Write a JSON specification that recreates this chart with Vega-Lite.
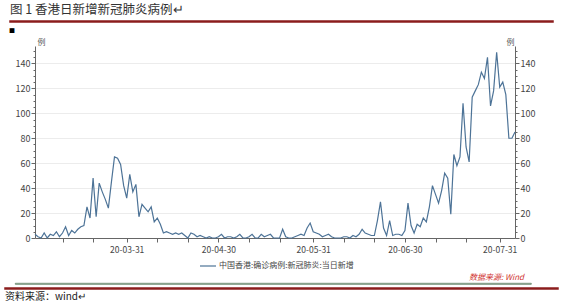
{
  "$schema": "https://vega.github.io/schema/vega-lite/v6.json",
  "background": "white",
  "padding": {"left": 4, "top": 2, "right": 0, "bottom": 0},
  "spacing": 5,
  "config": {
    "view": {"stroke": null},
    "font": "Noto Sans CJK SC",
    "title": {"font": "Noto Sans CJK SC", "fontWeight": "normal"}
  },
  "datasets": {
    "hk": [
      {"date": "2020-03-01", "cases": 3}, {"date": "2020-03-02", "cases": 1}, {"date": "2020-03-03", "cases": 0},
      {"date": "2020-03-04", "cases": 4}, {"date": "2020-03-05", "cases": 0}, {"date": "2020-03-06", "cases": 3},
      {"date": "2020-03-07", "cases": 2}, {"date": "2020-03-08", "cases": 5}, {"date": "2020-03-09", "cases": 1},
      {"date": "2020-03-10", "cases": 4}, {"date": "2020-03-11", "cases": 9}, {"date": "2020-03-12", "cases": 2},
      {"date": "2020-03-13", "cases": 6}, {"date": "2020-03-14", "cases": 4}, {"date": "2020-03-15", "cases": 7},
      {"date": "2020-03-16", "cases": 9}, {"date": "2020-03-17", "cases": 10}, {"date": "2020-03-18", "cases": 25},
      {"date": "2020-03-19", "cases": 16}, {"date": "2020-03-20", "cases": 48}, {"date": "2020-03-21", "cases": 17},
      {"date": "2020-03-22", "cases": 44}, {"date": "2020-03-23", "cases": 37}, {"date": "2020-03-24", "cases": 31},
      {"date": "2020-03-25", "cases": 24}, {"date": "2020-03-26", "cases": 45}, {"date": "2020-03-27", "cases": 65},
      {"date": "2020-03-28", "cases": 64}, {"date": "2020-03-29", "cases": 59}, {"date": "2020-03-30", "cases": 42},
      {"date": "2020-03-31", "cases": 32},
      {"date": "2020-04-01", "cases": 51}, {"date": "2020-04-02", "cases": 37}, {"date": "2020-04-03", "cases": 43},
      {"date": "2020-04-04", "cases": 17}, {"date": "2020-04-05", "cases": 27}, {"date": "2020-04-06", "cases": 24},
      {"date": "2020-04-07", "cases": 21}, {"date": "2020-04-08", "cases": 25}, {"date": "2020-04-09", "cases": 13},
      {"date": "2020-04-10", "cases": 16}, {"date": "2020-04-11", "cases": 11}, {"date": "2020-04-12", "cases": 4},
      {"date": "2020-04-13", "cases": 5}, {"date": "2020-04-14", "cases": 4}, {"date": "2020-04-15", "cases": 3},
      {"date": "2020-04-16", "cases": 4}, {"date": "2020-04-17", "cases": 3}, {"date": "2020-04-18", "cases": 4},
      {"date": "2020-04-19", "cases": 2}, {"date": "2020-04-20", "cases": 0}, {"date": "2020-04-21", "cases": 4},
      {"date": "2020-04-22", "cases": 3}, {"date": "2020-04-23", "cases": 1}, {"date": "2020-04-24", "cases": 2},
      {"date": "2020-04-25", "cases": 1}, {"date": "2020-04-26", "cases": 0}, {"date": "2020-04-27", "cases": 1},
      {"date": "2020-04-28", "cases": 0}, {"date": "2020-04-29", "cases": 0}, {"date": "2020-04-30", "cases": 1},
      {"date": "2020-05-01", "cases": 3}, {"date": "2020-05-02", "cases": 0}, {"date": "2020-05-03", "cases": 1},
      {"date": "2020-05-04", "cases": 1}, {"date": "2020-05-05", "cases": 0}, {"date": "2020-05-06", "cases": 1},
      {"date": "2020-05-07", "cases": 3}, {"date": "2020-05-08", "cases": 0}, {"date": "2020-05-09", "cases": 0},
      {"date": "2020-05-10", "cases": 1}, {"date": "2020-05-11", "cases": 3}, {"date": "2020-05-12", "cases": 0},
      {"date": "2020-05-13", "cases": 0}, {"date": "2020-05-14", "cases": 3}, {"date": "2020-05-15", "cases": 1},
      {"date": "2020-05-16", "cases": 2}, {"date": "2020-05-17", "cases": 3}, {"date": "2020-05-18", "cases": 0},
      {"date": "2020-05-19", "cases": 0}, {"date": "2020-05-20", "cases": 0}, {"date": "2020-05-21", "cases": 7},
      {"date": "2020-05-22", "cases": 1}, {"date": "2020-05-23", "cases": 0}, {"date": "2020-05-24", "cases": 0},
      {"date": "2020-05-25", "cases": 1}, {"date": "2020-05-26", "cases": 2}, {"date": "2020-05-27", "cases": 3},
      {"date": "2020-05-28", "cases": 2}, {"date": "2020-05-29", "cases": 8}, {"date": "2020-05-30", "cases": 12},
      {"date": "2020-05-31", "cases": 5},
      {"date": "2020-06-01", "cases": 4}, {"date": "2020-06-02", "cases": 3}, {"date": "2020-06-03", "cases": 1},
      {"date": "2020-06-04", "cases": 2}, {"date": "2020-06-05", "cases": 3}, {"date": "2020-06-06", "cases": 1},
      {"date": "2020-06-07", "cases": 0}, {"date": "2020-06-08", "cases": 0}, {"date": "2020-06-09", "cases": 0},
      {"date": "2020-06-10", "cases": 1}, {"date": "2020-06-11", "cases": 1}, {"date": "2020-06-12", "cases": 0},
      {"date": "2020-06-13", "cases": 2}, {"date": "2020-06-14", "cases": 1}, {"date": "2020-06-15", "cases": 3},
      {"date": "2020-06-16", "cases": 7}, {"date": "2020-06-17", "cases": 4}, {"date": "2020-06-18", "cases": 3},
      {"date": "2020-06-19", "cases": 2}, {"date": "2020-06-20", "cases": 2}, {"date": "2020-06-21", "cases": 14},
      {"date": "2020-06-22", "cases": 29}, {"date": "2020-06-23", "cases": 8}, {"date": "2020-06-24", "cases": 2},
      {"date": "2020-06-25", "cases": 14}, {"date": "2020-06-26", "cases": 2}, {"date": "2020-06-27", "cases": 3},
      {"date": "2020-06-28", "cases": 3}, {"date": "2020-06-29", "cases": 2}, {"date": "2020-06-30", "cases": 6},
      {"date": "2020-07-01", "cases": 28}, {"date": "2020-07-02", "cases": 10}, {"date": "2020-07-03", "cases": 4},
      {"date": "2020-07-04", "cases": 11}, {"date": "2020-07-05", "cases": 9}, {"date": "2020-07-06", "cases": 16},
      {"date": "2020-07-07", "cases": 13}, {"date": "2020-07-08", "cases": 25}, {"date": "2020-07-09", "cases": 42},
      {"date": "2020-07-10", "cases": 35}, {"date": "2020-07-11", "cases": 28}, {"date": "2020-07-12", "cases": 38},
      {"date": "2020-07-13", "cases": 52}, {"date": "2020-07-14", "cases": 48}, {"date": "2020-07-15", "cases": 19},
      {"date": "2020-07-16", "cases": 67}, {"date": "2020-07-17", "cases": 58}, {"date": "2020-07-18", "cases": 65},
      {"date": "2020-07-19", "cases": 108}, {"date": "2020-07-20", "cases": 73}, {"date": "2020-07-21", "cases": 61},
      {"date": "2020-07-22", "cases": 113}, {"date": "2020-07-23", "cases": 118}, {"date": "2020-07-24", "cases": 123},
      {"date": "2020-07-25", "cases": 133}, {"date": "2020-07-26", "cases": 128}, {"date": "2020-07-27", "cases": 145},
      {"date": "2020-07-28", "cases": 106}, {"date": "2020-07-29", "cases": 118}, {"date": "2020-07-30", "cases": 149},
      {"date": "2020-07-31", "cases": 121},
      {"date": "2020-08-01", "cases": 125}, {"date": "2020-08-02", "cases": 115}, {"date": "2020-08-03", "cases": 80},
      {"date": "2020-08-04", "cases": 80}, {"date": "2020-08-05", "cases": 85}
    ]
  },
  "vconcat": [
    {
      "spacing": 3,
      "hconcat": [
        {"width": 1, "height": 1, "data": {"values": []}, "mark": "point"},
        {
          "width": 543,
          "height": 1,
          "view": {"stroke": "#8b1c1c", "strokeWidth": 1.5},
          "title": {
            "text": "图 1 香港日新增新冠肺炎病例↵",
            "anchor": "start",
            "frame": "group",
            "fontSize": 12.5,
            "color": "#333333",
            "offset": 5
          },
          "data": {"values": []},
          "mark": "point"
        }
      ]
    },
    {
      "spacing": 19,
      "vconcat": [
        {
          "spacing": 3,
          "hconcat": [
            {"width": 1, "height": 1, "data": {"values": []}, "mark": "point"},
            {
              "width": 480,
              "height": 192,
              "title": {
                "text": "■",
                "anchor": "start",
                "frame": "group",
                "fontSize": 6,
                "color": "#000000",
                "dx": -26,
                "offset": 4
              },
              "data": {"name": "hk"},
              "encoding": {
                "x": {
                  "field": "date",
                  "type": "temporal",
                  "scale": {
                    "type": "utc",
                    "domain": [
                      {"year": 2020, "month": 3, "date": 1, "utc": true},
                      {"year": 2020, "month": 8, "date": 5, "utc": true}
                    ]
                  },
                  "axis": {
                    "title": null,
                    "values": [
                      {"year": 2020, "month": 3, "date": 10, "utc": true},
                      {"year": 2020, "month": 3, "date": 20, "utc": true},
                      {"year": 2020, "month": 3, "date": 31, "utc": true},
                      {"year": 2020, "month": 4, "date": 10, "utc": true},
                      {"year": 2020, "month": 4, "date": 20, "utc": true},
                      {"year": 2020, "month": 4, "date": 30, "utc": true},
                      {"year": 2020, "month": 5, "date": 10, "utc": true},
                      {"year": 2020, "month": 5, "date": 20, "utc": true},
                      {"year": 2020, "month": 5, "date": 31, "utc": true},
                      {"year": 2020, "month": 6, "date": 10, "utc": true},
                      {"year": 2020, "month": 6, "date": 20, "utc": true},
                      {"year": 2020, "month": 6, "date": 30, "utc": true},
                      {"year": 2020, "month": 7, "date": 10, "utc": true},
                      {"year": 2020, "month": 7, "date": 20, "utc": true},
                      {"year": 2020, "month": 7, "date": 31, "utc": true}
                    ],
                    "format": "%y-%m-%d",
                    "labelExpr": "utcdate(datum.value) >= 30 ? datum.label : ''",
                    "labelOverlap": false,
                    "labelFlush": false,
                    "grid": false,
                    "tickSize": 4,
                    "tickColor": "#666666",
                    "domainColor": "#666666",
                    "labelColor": "#444444",
                    "labelFontSize": 8.5,
                    "labelPadding": 3
                  }
                }
              },
              "layer": [
                {
                  "mark": {"type": "line", "strokeWidth": 1.2},
                  "encoding": {
                    "y": {
                      "field": "cases",
                      "type": "quantitative",
                      "scale": {"domain": [0, 154], "nice": false},
                      "axis": {
                        "orient": "left",
                        "values": [0, 5, 10, 15, 20, 25, 30, 35, 40, 45, 50, 55, 60, 65, 70, 75, 80, 85, 90, 95, 100, 105, 110, 115, 120, 125, 130, 135, 140, 145, 150],
                        "labelExpr": "datum.value % 20 === 0 ? datum.label : ''",
                        "labelOverlap": false,
                        "labelFlush": false,
                        "tickSize": {"condition": {"test": "datum.value % 20 === 0", "value": 4}, "value": 2},
                        "tickColor": "#666666",
                        "domainColor": "#666666",
                        "grid": true,
                        "gridColor": "#ececec",
                        "gridOpacity": {"condition": {"test": "datum.value % 20 === 0 && datum.value > 0", "value": 1}, "value": 0},
                        "labelColor": "#444444",
                        "labelFontSize": 9,
                        "labelPadding": 1,
                        "title": "例",
                        "titleAngle": 0,
                        "titleX": 2,
                        "titleY": 0,
                        "titleAlign": "left",
                        "titleBaseline": "bottom",
                        "titleFontSize": 8,
                        "titleFontWeight": "normal",
                        "titleColor": "#555555"
                      }
                    },
                    "color": {
                      "datum": "中国香港:确诊病例:新冠肺炎:当日新增",
                      "scale": {"range": ["#4d7397"]},
                      "legend": {
                        "orient": "none",
                        "legendX": 194,
                        "legendY": 236,
                        "title": null,
                        "padding": 0,
                        "symbolType": "stroke",
                        "symbolSize": 256,
                        "symbolStrokeWidth": 1.2,
                        "labelFontSize": 8,
                        "labelColor": "#444444",
                        "labelOffset": 2
                      }
                    }
                  }
                },
                {
                  "mark": {"type": "line", "strokeOpacity": 0},
                  "encoding": {
                    "y": {
                      "field": "cases",
                      "type": "quantitative",
                      "scale": {"domain": [0, 154], "nice": false},
                      "axis": {
                        "orient": "right",
                        "values": [0, 5, 10, 15, 20, 25, 30, 35, 40, 45, 50, 55, 60, 65, 70, 75, 80, 85, 90, 95, 100, 105, 110, 115, 120, 125, 130, 135, 140, 145, 150],
                        "labelExpr": "datum.value % 20 === 0 ? datum.label : ''",
                        "labelOverlap": false,
                        "labelFlush": false,
                        "tickSize": {"condition": {"test": "datum.value % 20 === 0", "value": 4}, "value": 2},
                        "tickColor": "#666666",
                        "domainColor": "#666666",
                        "grid": false,
                        "labelColor": "#444444",
                        "labelFontSize": 9,
                        "labelPadding": 1,
                        "title": "例",
                        "titleAngle": 0,
                        "titleX": -1,
                        "titleY": 0,
                        "titleAlign": "right",
                        "titleBaseline": "bottom",
                        "titleFontSize": 8,
                        "titleFontWeight": "normal",
                        "titleColor": "#555555"
                      }
                    }
                  }
                }
              ],
              "resolve": {"axis": {"y": "independent"}}
            }
          ]
        },
        {
          "spacing": 2,
          "vconcat": [
            {
              "spacing": 8,
              "hconcat": [
                {"width": 1, "height": 1, "data": {"values": []}, "mark": "point"},
                {
                  "width": 516,
                  "height": 1,
                  "view": {"stroke": "#557a5c", "strokeWidth": 0.8},
                  "title": {
                    "text": "数据来源: Wind",
                    "anchor": "start",
                    "frame": "group",
                    "dx": 454,
                    "fontSize": 8,
                    "fontStyle": "italic",
                    "color": "#d0332f",
                    "offset": 1
                  },
                  "data": {"values": []},
                  "mark": "point"
                }
              ]
            },
            {
              "width": 553,
              "height": 1,
              "view": {"stroke": "#8b1c1c", "strokeWidth": 1.5},
              "title": {
                "text": "资料来源：wind↵",
                "orient": "bottom",
                "anchor": "start",
                "frame": "group",
                "fontSize": 10,
                "color": "#222222",
                "offset": 3
              },
              "data": {"values": []},
              "mark": "point"
            }
          ]
        }
      ]
    }
  ]
}
